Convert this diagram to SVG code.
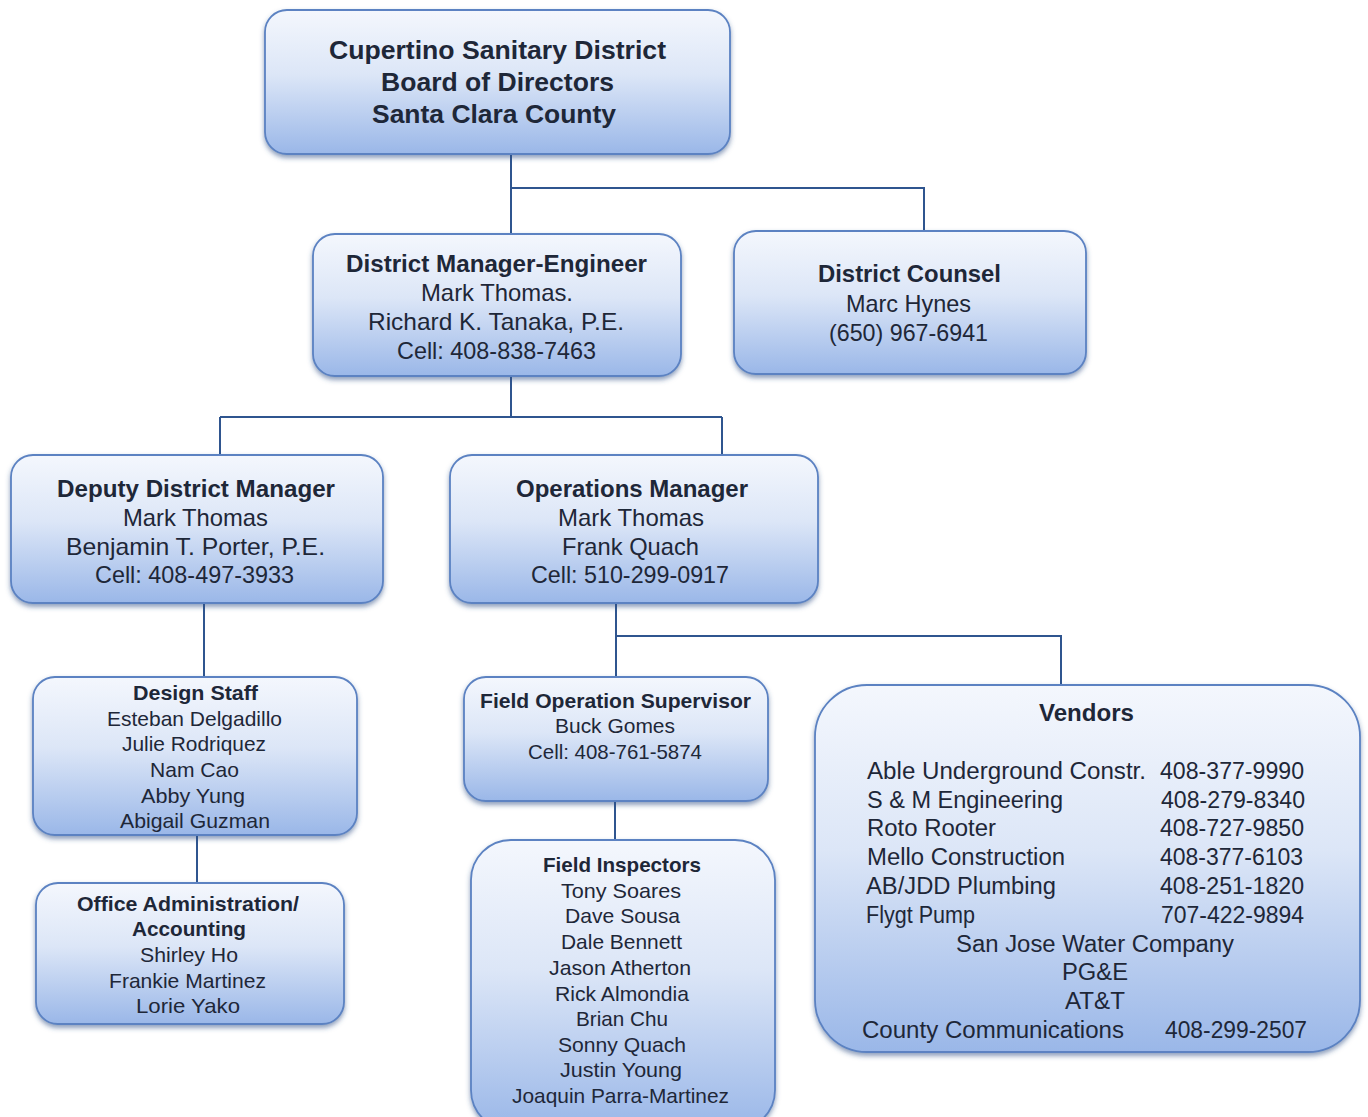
<svg xmlns="http://www.w3.org/2000/svg" width="1368" height="1117" viewBox="0 0 1368 1117">
<defs>
<linearGradient id="g" x1="0" y1="0" x2="0" y2="1">
<stop offset="0" stop-color="#f4f7fd"/>
<stop offset="0.45" stop-color="#dce6f7"/>
<stop offset="1" stop-color="#9ab7e8"/>
</linearGradient>
<filter id="sh" x="-5%" y="-5%" width="110%" height="115%">
<feDropShadow dx="0" dy="3" stdDeviation="2.5" flood-color="#2d4f86" flood-opacity="0.55"/>
</filter>
</defs>
<style>
.box{fill:url(#g);stroke:#5b82c2;stroke-width:1.8;filter:url(#sh)}
.c{fill:none;stroke:#2f558f;stroke-width:2}
text{font-family:"Liberation Sans",Arial,sans-serif;fill:#1e2738}
.b{font-weight:bold}
.t{font-size:26px}
.l{font-size:24px}
.m{font-size:23px}
.s{font-size:21px}
</style>
<rect width="1368" height="1117" fill="#ffffff"/>
<g id="connectors">
<path class="c" d="M511 155V236M511 188H924V231"/>
<path class="c" d="M511 377V417M220 417H722M220 417V455M722 417V455"/>
<path class="c" d="M204 604V678"/>
<path class="c" d="M197 836V884"/>
<path class="c" d="M616 604V677M616 636H1061V685"/>
<path class="c" d="M615 802V840"/>
</g>
<g id="board">
<rect class="box" x="265" y="10" width="465" height="144" rx="22"/>
<text class="b t" x="329" y="59" textLength="337" lengthAdjust="spacingAndGlyphs">Cupertino Sanitary District</text>
<text class="b t" x="381" y="91" textLength="233" lengthAdjust="spacingAndGlyphs">Board of Directors</text>
<text class="b t" x="372" y="123" textLength="244" lengthAdjust="spacingAndGlyphs">Santa Clara County</text>
</g>
<g id="dme">
<rect class="box" x="313" y="234" width="368" height="142" rx="22"/>
<text class="b l" x="346" y="272" textLength="301" lengthAdjust="spacingAndGlyphs">District Manager-Engineer</text>
<text class="l" x="421" y="301" textLength="152" lengthAdjust="spacingAndGlyphs">Mark Thomas.</text>
<text class="l" x="368" y="330" textLength="256" lengthAdjust="spacingAndGlyphs">Richard K. Tanaka, P.E.</text>
<text class="l" x="397" y="359" textLength="199" lengthAdjust="spacingAndGlyphs">Cell: 408-838-7463</text>
</g>
<g id="counsel">
<rect class="box" x="734" y="231" width="352" height="143" rx="22"/>
<text class="b l" x="818" y="282" textLength="183" lengthAdjust="spacingAndGlyphs">District Counsel</text>
<text class="l" x="846" y="312" textLength="125" lengthAdjust="spacingAndGlyphs">Marc Hynes</text>
<text class="l" x="829" y="341" textLength="159" lengthAdjust="spacingAndGlyphs">(650) 967-6941</text>
</g>
<g id="deputy">
<rect class="box" x="11" y="455" width="372" height="148" rx="22"/>
<text class="b l" x="57" y="497" textLength="278" lengthAdjust="spacingAndGlyphs">Deputy District Manager</text>
<text class="l" x="123" y="526" textLength="145" lengthAdjust="spacingAndGlyphs">Mark Thomas</text>
<text class="l" x="66" y="555" textLength="259" lengthAdjust="spacingAndGlyphs">Benjamin T. Porter, P.E.</text>
<text class="l" x="95" y="583" textLength="199" lengthAdjust="spacingAndGlyphs">Cell: 408-497-3933</text>
</g>
<g id="operations">
<rect class="box" x="450" y="455" width="368" height="148" rx="22"/>
<text class="b l" x="516" y="497" textLength="232" lengthAdjust="spacingAndGlyphs">Operations Manager</text>
<text class="l" x="558" y="526" textLength="146" lengthAdjust="spacingAndGlyphs">Mark Thomas</text>
<text class="l" x="562" y="555" textLength="137" lengthAdjust="spacingAndGlyphs">Frank Quach</text>
<text class="l" x="531" y="583" textLength="198" lengthAdjust="spacingAndGlyphs">Cell: 510-299-0917</text>
</g>
<g id="design">
<rect class="box" x="33" y="677" width="324" height="158" rx="22"/>
<text class="b s" x="133" y="700" textLength="125" lengthAdjust="spacingAndGlyphs">Design Staff</text>
<text class="s" x="107" y="726" textLength="175" lengthAdjust="spacingAndGlyphs">Esteban Delgadillo</text>
<text class="s" x="122" y="751" textLength="144" lengthAdjust="spacingAndGlyphs">Julie Rodriquez</text>
<text class="s" x="150" y="777" textLength="89" lengthAdjust="spacingAndGlyphs">Nam Cao</text>
<text class="s" x="141" y="803" textLength="104" lengthAdjust="spacingAndGlyphs">Abby Yung</text>
<text class="s" x="120" y="828" textLength="150" lengthAdjust="spacingAndGlyphs">Abigail Guzman</text>
</g>
<g id="office">
<rect class="box" x="36" y="883" width="308" height="141" rx="22"/>
<text class="b s" x="77" y="911" textLength="222" lengthAdjust="spacingAndGlyphs">Office Administration/</text>
<text class="b s" x="132" y="936" textLength="114" lengthAdjust="spacingAndGlyphs">Accounting</text>
<text class="s" x="140" y="962" textLength="98" lengthAdjust="spacingAndGlyphs">Shirley Ho</text>
<text class="s" x="109" y="988" textLength="157" lengthAdjust="spacingAndGlyphs">Frankie Martinez</text>
<text class="s" x="136" y="1013" textLength="104" lengthAdjust="spacingAndGlyphs">Lorie Yako</text>
</g>
<g id="fos">
<rect class="box" x="464" y="677" width="304" height="124" rx="22"/>
<text class="b s" x="480" y="708" textLength="271" lengthAdjust="spacingAndGlyphs">Field Operation Supervisor</text>
<text class="s" x="555" y="733" textLength="120" lengthAdjust="spacingAndGlyphs">Buck Gomes</text>
<text class="s" x="528" y="759" textLength="174" lengthAdjust="spacingAndGlyphs">Cell: 408-761-5874</text>
</g>
<g id="inspectors">
<rect class="box" x="471" y="840" width="304" height="290" rx="40"/>
<text class="b s" x="543" y="872" textLength="158" lengthAdjust="spacingAndGlyphs">Field Inspectors</text>
<text class="s" x="561" y="898" textLength="120" lengthAdjust="spacingAndGlyphs">Tony Soares</text>
<text class="s" x="565" y="923" textLength="115" lengthAdjust="spacingAndGlyphs">Dave Sousa</text>
<text class="s" x="561" y="949" textLength="121" lengthAdjust="spacingAndGlyphs">Dale Bennett</text>
<text class="s" x="549" y="975" textLength="142" lengthAdjust="spacingAndGlyphs">Jason Atherton</text>
<text class="s" x="555" y="1001" textLength="134" lengthAdjust="spacingAndGlyphs">Rick Almondia</text>
<text class="s" x="576" y="1026" textLength="92" lengthAdjust="spacingAndGlyphs">Brian Chu</text>
<text class="s" x="558" y="1052" textLength="128" lengthAdjust="spacingAndGlyphs">Sonny Quach</text>
<text class="s" x="560" y="1077" textLength="122" lengthAdjust="spacingAndGlyphs">Justin Young</text>
<text class="s" x="512" y="1103" textLength="217" lengthAdjust="spacingAndGlyphs">Joaquin Parra-Martinez</text>
</g>
<g id="vendors">
<rect class="box" x="815" y="685" width="545" height="367" rx="52"/>
<text class="b m" x="1039" y="721" textLength="95" lengthAdjust="spacingAndGlyphs">Vendors</text>
<text class="m" x="867" y="779" textLength="279" lengthAdjust="spacingAndGlyphs">Able Underground Constr.</text>
<text class="m" x="1160" y="779" textLength="144" lengthAdjust="spacingAndGlyphs">408-377-9990</text>
<text class="m" x="867" y="808" textLength="196" lengthAdjust="spacingAndGlyphs">S &amp; M Engineering</text>
<text class="m" x="1161" y="808" textLength="144" lengthAdjust="spacingAndGlyphs">408-279-8340</text>
<text class="m" x="867" y="836" textLength="129" lengthAdjust="spacingAndGlyphs">Roto Rooter</text>
<text class="m" x="1160" y="836" textLength="144" lengthAdjust="spacingAndGlyphs">408-727-9850</text>
<text class="m" x="867" y="865" textLength="198" lengthAdjust="spacingAndGlyphs">Mello Construction</text>
<text class="m" x="1160" y="865" textLength="143" lengthAdjust="spacingAndGlyphs">408-377-6103</text>
<text class="m" x="866" y="894" textLength="190" lengthAdjust="spacingAndGlyphs">AB/JDD Plumbing</text>
<text class="m" x="1160" y="894" textLength="144" lengthAdjust="spacingAndGlyphs">408-251-1820</text>
<text class="m" x="866" y="923" textLength="109" lengthAdjust="spacingAndGlyphs">Flygt Pump</text>
<text class="m" x="1161" y="923" textLength="143" lengthAdjust="spacingAndGlyphs">707-422-9894</text>
<text class="m" x="956" y="952" textLength="278" lengthAdjust="spacingAndGlyphs">San Jose Water Company</text>
<text class="m" x="1062" y="980" textLength="66" lengthAdjust="spacingAndGlyphs">PG&amp;E</text>
<text class="m" x="1065" y="1009" textLength="60" lengthAdjust="spacingAndGlyphs">AT&amp;T</text>
<text class="m" x="862" y="1038" textLength="262" lengthAdjust="spacingAndGlyphs">County Communications</text>
<text class="m" x="1165" y="1038" textLength="142" lengthAdjust="spacingAndGlyphs">408-299-2507</text>
</g>
</svg>
